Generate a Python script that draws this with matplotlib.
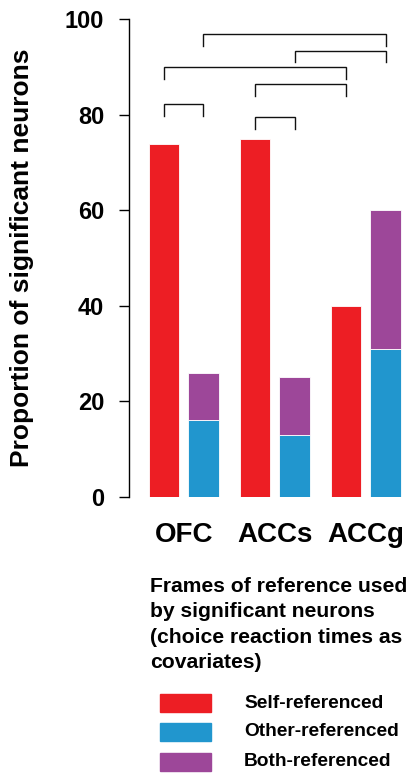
import matplotlib
matplotlib.use("Agg")
import matplotlib.pyplot as plt
from matplotlib.patches import Rectangle
import numpy as np

plt.rcParams['font.family'] = ['Liberation Sans', 'DejaVu Sans']

# ---- data ----
areas = ["OFC", "ACCs", "ACCg"]
self_ref = [74, 75, 40]
other_ref = [16, 13, 31]
both_ref = [10, 12, 29]
yticks = [0, 20, 40, 60, 80, 100]
legend_labels = ["Self-referenced", "Other-referenced", "Both-referenced"]
legend_title = "Frames of reference used\nby significant neurons\n(choice reaction times as\ncovariates)"
ylabel = "Proportion of significant neurons"
# significance brackets: (area index a, bar kind a, area index b, bar kind b, top level)
brackets = [
    (0, "self", 0, "other", 82.3),
    (1, "self", 1, "other", 79.5),
    (1, "self", 2, "self", 86.5),
    (0, "self", 2, "self", 90.0),
    (1, "other", 2, "other", 93.5),
    (0, "other", 2, "other", 97.0),
]

red = "#ED1E24"
blue = "#2196CE"
purple = "#9D4799"

W, H = 411, 773
fig = plt.figure(figsize=(W / 100, H / 100), dpi=100)
ax = fig.add_axes([128.5 / W, (H - 496.7) / H, (W - 128.5) / W, (496.7 - 19.5) / H])

x = np.arange(len(areas))
off = 0.217
bw = 0.33
ax.bar(x - off, self_ref, bw, color=red, edgecolor="white", linewidth=0.6)
ax.bar(x + off, other_ref, bw, color=blue, edgecolor="white", linewidth=0.6)
ax.bar(x + off, both_ref, bw, bottom=other_ref, color=purple, edgecolor="white", linewidth=0.6)

ax.set_xlim(-0.607, 2.497)
ax.set_ylim(0, 100)

for a, ka, b, kb, top in brackets:
    xa = a + (off if ka == "other" else -off)
    xb = b + (off if kb == "other" else -off)
    ax.plot([xa, xa, xb, xb], [top - 2.5, top, top, top - 2.5], color="#111111",
            linewidth=1.0, clip_on=False, solid_joinstyle="miter")

for s in ["top", "right", "bottom"]:
    ax.spines[s].set_visible(False)
ax.spines["left"].set_linewidth(1.0)
ax.set_yticks(yticks)
ax.set_yticklabels([str(t) for t in yticks], fontsize=17, fontweight="bold")
ax.tick_params(axis="y", length=7.5, width=1.0, pad=10)
ax.set_xticks(x)
ax.set_xticklabels(areas, fontsize=20, fontweight="bold")
ax.tick_params(axis="x", length=0, pad=18)
ax.set_ylabel(ylabel, fontsize=19, fontweight="bold", labelpad=22)

# legend drawn in figure pixel coordinates
fig.text(150 / W, 1 - 577 / H, legend_title, fontsize=15.2, fontweight="bold",
         ha="left", va="top", linespacing=1.42)
cols = [red, blue, purple]
ys = [694, 723, 753]
for c, lab, y0 in zip(cols, legend_labels, ys):
    fig.patches.append(Rectangle((160 / W, 1 - (y0 + 18) / H), 51 / W, 18 / H,
                                 transform=fig.transFigure, color=c, figure=fig))
    fig.text(244 / W, 1 - (y0 + 9) / H, lab, fontsize=13.8, fontweight="bold",
             ha="left", va="center")

fig.savefig("out.png", dpi=100)
